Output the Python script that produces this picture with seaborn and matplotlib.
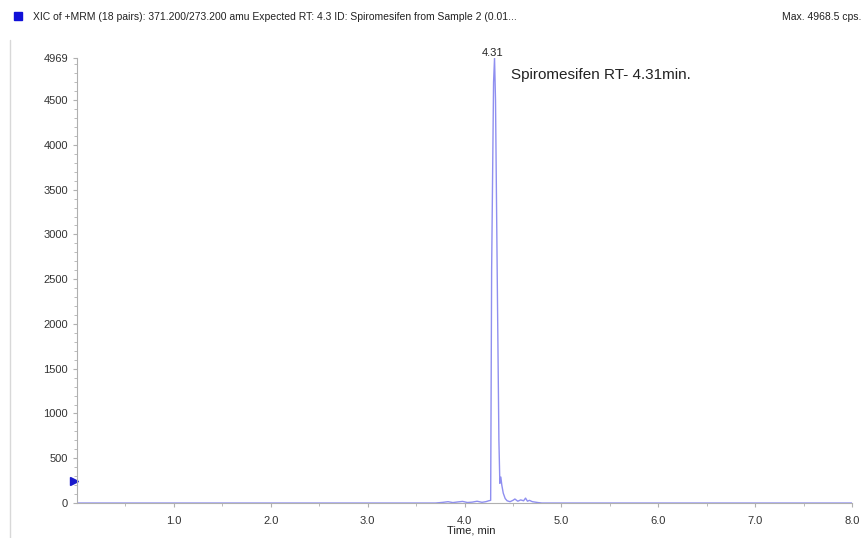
import matplotlib
matplotlib.use("Agg")
import matplotlib.pyplot as plt
import seaborn as sns
import pandas as pd
from matplotlib.lines import Line2D
from matplotlib.patches import Rectangle

# XIC trace (time in min, intensity in cps)
time_min = [0.0, 1.0, 2.0, 3.0, 3.70, 3.78, 3.83, 3.88, 3.93, 3.98, 4.03, 4.08,
            4.13, 4.18, 4.22, 4.25, 4.27, 4.28, 4.30, 4.31, 4.32, 4.34, 4.355,
            4.365, 4.375, 4.385, 4.40, 4.42, 4.44, 4.47, 4.50, 4.52, 4.55,
            4.58, 4.61, 4.63, 4.65, 4.67, 4.70, 4.73, 4.76, 4.80, 5.0, 6.0,
            7.0, 8.0]
intensity = [0, 0, 0, 0, 0, 8, 15, 5, 12, 18, 6, 10,
             20, 8, 15, 25, 30, 2600, 4700, 4969, 4500, 2300, 700,
             220, 290, 200, 110, 50, 25, 15, 30, 45, 20,
             35, 25, 55, 20, 30, 15, 10, 5, 0, 0, 0,
             0, 0]

y_ticks = [0, 500, 1000, 1500, 2000, 2500, 3000, 3500, 4000, 4500, 4969]
x_ticks = [1.0, 2.0, 3.0, 4.0, 5.0, 6.0, 7.0, 8.0]

header = "XIC of +MRM (18 pairs): 371.200/273.200 amu Expected RT: 4.3 ID: Spiromesifen from Sample 2 (0.01..."
max_label = "Max. 4968.5 cps."
peak_label = "4.31"
note = "Spiromesifen RT- 4.31min."

df = pd.DataFrame({"time": time_min, "cps": intensity})

sns.set_style("ticks")
plt.rcParams["font.family"] = ["Liberation Sans", "DejaVu Sans"]

line_color = "#8f8ff0"
axis_color = "#b0b0b0"

fig = plt.figure(figsize=(8.65, 5.38), dpi=100)
ax = fig.add_axes([0.089, 0.065, 0.896, 0.827])

sns.lineplot(data=df, x="time", y="cps", ax=ax, color=line_color, linewidth=1.0)

ax.set_xlim(0, 8.0)
ax.set_ylim(0, 4969)
ax.set_xticks(x_ticks)
ax.set_xticklabels([f"{v:.1f}" for v in x_ticks], fontsize=8)
ax.set_xticks([0.5, 1.5, 2.5, 3.5, 4.5, 5.5, 6.5, 7.5], minor=True)
ax.set_yticks(y_ticks)
ax.set_yticklabels([str(v) for v in y_ticks], fontsize=8)
ax.set_yticks(range(100, 4969, 100), minor=True)
ax.tick_params(axis="both", which="major", length=3, color=axis_color, labelcolor="#333333")
ax.tick_params(axis="both", which="minor", length=2, color=axis_color)
ax.tick_params(axis="x", pad=6)
ax.set_xlabel("")
ax.set_ylabel("")

for side in ["top", "right"]:
    ax.spines[side].set_visible(False)
for side in ["left", "bottom"]:
    ax.spines[side].set_color(axis_color)
    ax.spines[side].set_linewidth(0.8)

ax.text(4.07, -0.062, "Time, min", transform=ax.get_xaxis_transform(),
        ha="center", va="center", fontsize=8, color="#222222")

ax.text(4.29, 1.0, peak_label, transform=ax.get_xaxis_transform(),
        ha="center", va="bottom", fontsize=8, color="#222222", clip_on=False)
ax.text(4.48, 4780, note, ha="left", va="center", fontsize=11, color="#222222")

# blue threshold marker on the y axis
ax.plot([-0.004], [250], marker=">", color="#1a1acc", markersize=6,
        clip_on=False, transform=ax.get_yaxis_transform(), linestyle="none")

# header line
fig.add_artist(Rectangle((14 / 865, 1 - 20 / 538), 8 / 865, 8 / 538,
                         transform=fig.transFigure, color="#1010d8"))
fig.text(33 / 865, 1 - 17 / 538, header, ha="left", va="center", fontsize=7.5, color="#222222")
fig.text(861 / 865, 1 - 17 / 538, max_label, ha="right", va="center", fontsize=7.5, color="#222222")

# window border on the left
fig.add_artist(Line2D([10 / 865, 10 / 865], [0, 1 - 40 / 538],
                      transform=fig.transFigure, color="#d8d8d8", linewidth=1))

fig.savefig("out.png", dpi=100)
